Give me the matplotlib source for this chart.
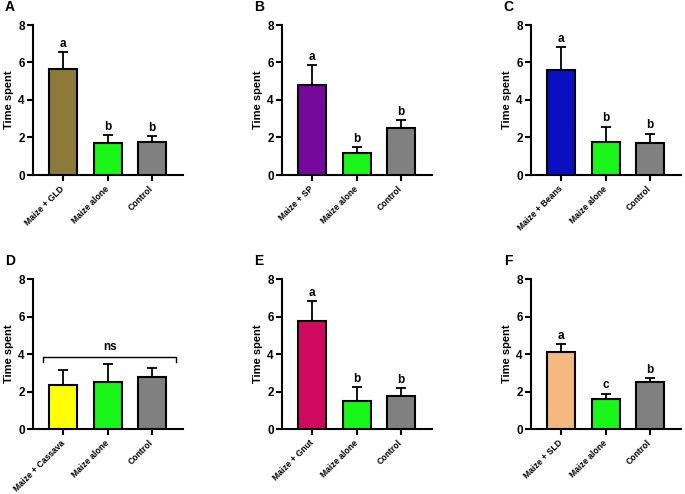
import matplotlib
matplotlib.use("Agg")
import matplotlib.pyplot as plt

plt.rcParams['font.family'] = ['Liberation Sans', 'DejaVu Sans']
plt.rcParams['font.weight'] = 'bold'

panels = ['A', 'B', 'C', 'D', 'E', 'F']
categories = {
    'A': ['Maize + GLD', 'Maize alone', 'Control'],
    'B': ['Maize + SP', 'Maize alone', 'Control'],
    'C': ['Maize + Beans', 'Maize alone', 'Control'],
    'D': ['Maize + Cassava', 'Maize alone', 'Control'],
    'E': ['Maize + Gnut', 'Maize alone', 'Control'],
    'F': ['Maize + SLD', 'Maize alone', 'Control'],
}
means = {
    'A': [5.66, 1.72, 1.78],
    'B': [4.82, 1.16, 2.50],
    'C': [5.58, 1.77, 1.72],
    'D': [2.35, 2.49, 2.79],
    'E': [5.74, 1.48, 1.78],
    'F': [4.10, 1.59, 2.50],
}
err_tops = {
    'A': [6.55, 2.11, 2.07],
    'B': [5.87, 1.50, 2.94],
    'C': [6.80, 2.58, 2.20],
    'D': [3.13, 3.45, 3.27],
    'E': [6.84, 2.24, 2.19],
    'F': [4.51, 1.89, 2.73],
}
letters = {
    'A': ['a', 'b', 'b'],
    'B': ['a', 'b', 'b'],
    'C': ['a', 'b', 'b'],
    'D': ['', '', ''],
    'E': ['a', 'b', 'b'],
    'F': ['a', 'c', 'b'],
}
first_colors = {
    'A': '#8B7A3A',
    'B': '#76099C',
    'C': '#0A10C2',
    'D': '#FFFF00',
    'E': '#CF0A5E',
    'F': '#F4B97F',
}
green = '#1AF51A'
gray = '#808080'
yticks = [0, 2, 4, 6, 8]

fig = plt.figure(figsize=(6.85, 4.94), dpi=100)
W, H = 685, 494
lefts = [33, 282, 531]
tops = [25, 279]
aw, ah = 150, 150

for i, p in enumerate(panels):
    r, c = divmod(i, 3)
    l = lefts[c]
    t = tops[r]
    ax = fig.add_axes([l / W, 1 - (t + ah) / H, aw / W, ah / H])
    x = [0, 1, 2]
    vals = means[p]
    errs = [e - v for e, v in zip(err_tops[p], vals)]
    ax.errorbar(x, vals, yerr=[[0, 0, 0], errs], fmt='none', ecolor='black',
                elinewidth=1.3, capsize=3.6, capthick=1.3, zorder=2)
    ax.bar(x, vals, width=0.63, color=[first_colors[p], green, gray],
           edgecolor='black', linewidth=1.5, zorder=3)
    for xi, et, lt in zip(x, err_tops[p], letters[p]):
        if lt:
            ax.text(xi, et + 0.12, lt, ha='center', va='bottom',
                    fontsize=8.5, fontweight='bold')
    if p == 'D':
        yb, yt = 3.57, 3.84
        ax.plot([-0.46, -0.46, 2.55, 2.55], [yb, yt, yt, yb], color='black', lw=1.0)
        ax.text(1.05, 4.05, 'ns', ha='center', va='bottom', fontsize=8.5, fontweight='bold')
    ax.set_xlim(-0.68, 2.7)
    ax.set_ylim(0, 8)
    ax.set_yticks(yticks)
    ax.set_yticklabels([str(v) for v in yticks], fontsize=8.5, fontweight='bold')
    ax.set_xticks(x)
    ax.set_xticklabels(categories[p], rotation=45, ha='right', va='center',
                       rotation_mode='anchor', fontsize=6.2, fontweight='bold')
    ax.spines['top'].set_visible(False)
    ax.spines['right'].set_visible(False)
    ax.spines['left'].set_linewidth(1.5)
    ax.spines['bottom'].set_linewidth(1.5)
    ax.tick_params(axis='both', width=1.5, length=4, pad=2)
    ax.tick_params(axis='x', pad=5)
    ax.set_ylabel('Time spent', fontsize=8, fontweight='bold', labelpad=3)
    fig.text((l - 23) / W, 1 - (t - 18) / H, p, fontsize=10, fontweight='bold',
             ha='center', va='center')

fig.savefig('out.png', dpi=100)
